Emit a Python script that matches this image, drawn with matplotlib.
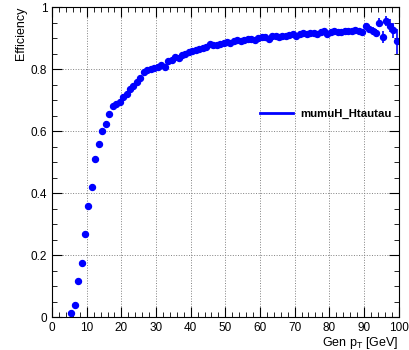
import numpy as np
import matplotlib
matplotlib.use('Agg')
import matplotlib.pyplot as plt
from matplotlib.ticker import MultipleLocator

plt.rcParams['font.family'] = ['Liberation Sans', 'DejaVu Sans']

# efficiency vs gen pT, 1 GeV bins
pt = np.arange(5.5, 100.0, 1.0)
eff = [0.013, 0.040, 0.116, 0.174, 0.268, 0.358, 0.420, 0.510, 0.557, 0.600,
       0.623, 0.655, 0.680, 0.687, 0.695, 0.710, 0.720, 0.735, 0.745, 0.757,
       0.770, 0.790, 0.797, 0.800, 0.803, 0.808, 0.812, 0.805, 0.826, 0.830,
       0.840, 0.836, 0.846, 0.850, 0.855, 0.858, 0.862, 0.865, 0.868, 0.872,
       0.880, 0.878, 0.879, 0.880, 0.884, 0.886, 0.884, 0.890, 0.892, 0.890,
       0.895, 0.897, 0.898, 0.895, 0.900, 0.902, 0.903, 0.898, 0.905, 0.906,
       0.903, 0.908, 0.907, 0.910, 0.912, 0.906, 0.913, 0.915, 0.913, 0.917,
       0.916, 0.914, 0.920, 0.921, 0.912, 0.919, 0.922, 0.920, 0.918, 0.923,
       0.921, 0.922, 0.925, 0.924, 0.918, 0.938, 0.930, 0.922, 0.916, 0.950,
       0.903, 0.955, 0.940, 0.925, 0.890]
err = [0.008] * 85 + [0.010, 0.012, 0.012, 0.014, 0.016,
                      0.018, 0.016, 0.020, 0.025, 0.040]

fig = plt.figure(figsize=(4.1, 3.5), dpi=100)
ax = fig.add_axes([0.127, 0.094, 0.845, 0.886])

ax.errorbar(pt, eff, yerr=err, fmt='o', color='#0000ff', ms=4.3,
            elinewidth=1.2, capsize=0, label='mumuH_Htautau')

ax.set_xlim(0, 100)
ax.set_ylim(0, 1)
ax.xaxis.set_major_locator(MultipleLocator(10))
ax.xaxis.set_minor_locator(MultipleLocator(2))
ax.yaxis.set_major_locator(MultipleLocator(0.2))
ax.yaxis.set_minor_locator(MultipleLocator(0.05))
ax.set_yticks([0, 0.2, 0.4, 0.6, 0.8, 1])
ax.set_yticklabels(['0', '0.2', '0.4', '0.6', '0.8', '1'])
ax.tick_params(which='both', direction='in', top=True, right=True, labelsize=8.5)
ax.tick_params(which='major', length=7)
ax.tick_params(which='minor', length=3.5)
ax.grid(True, which='major', linestyle=':', color='gray', linewidth=0.7)

ax.set_xlabel('Gen p$_\\mathregular{T}$ [GeV]', loc='right', fontsize=9, labelpad=1)
ax.set_ylabel('Efficiency', loc='top', fontsize=9, labelpad=3)

handle = plt.Line2D([], [], color='#0000ff', lw=2)
ax.legend([handle], ['mumuH_Htautau'], loc='center left', bbox_to_anchor=(0.60, 0.655),
          frameon=False, borderpad=0, borderaxespad=0, handlelength=2.9,
          handletextpad=0.6, prop={'weight': 'bold', 'size': 8.2})

fig.savefig('out.png', dpi=100)
